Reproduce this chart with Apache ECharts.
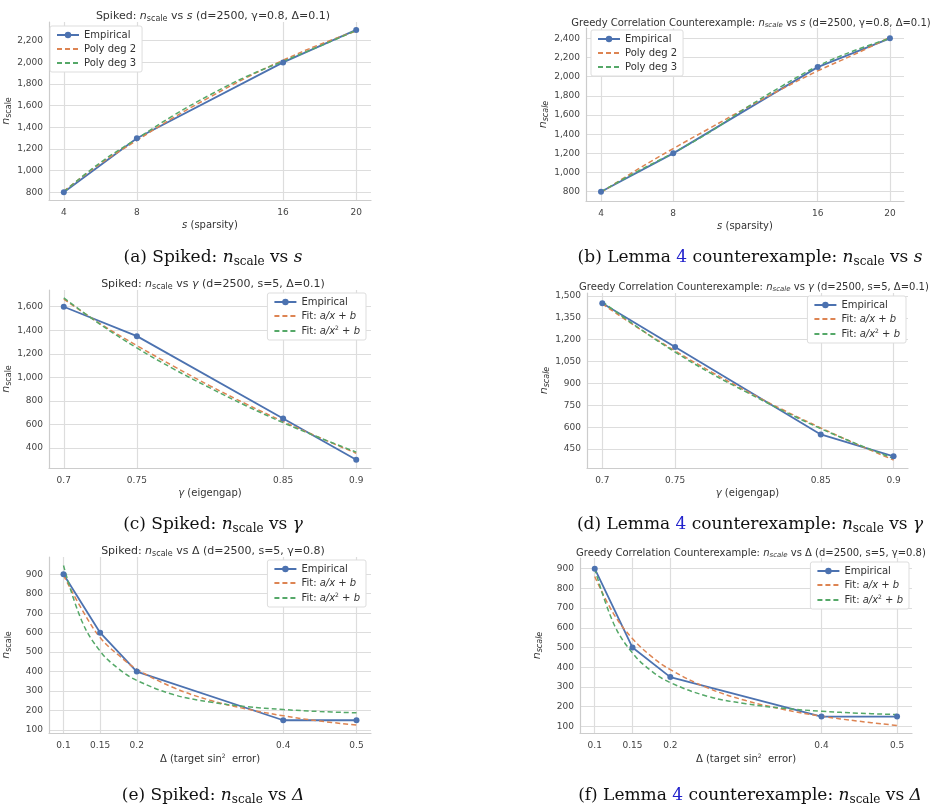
<!DOCTYPE html>
<html>
<head>
<meta charset="UTF-8">
<title>n_scale panels</title>
<script src="https://cdn.jsdelivr.net/npm/echarts@6/dist/echarts.min.js"></script>
<style>html,body{margin:0;background:#fff}</style>
</head>
<body>
<div id="chart" style="width:939px;height:807px;"></div>
<script>
// x values
var sVals = [4, 8, 16, 20];
var sFit = [4, 6, 8, 10, 12, 14, 16, 18, 20];
var gVals = [0.7, 0.75, 0.85, 0.9];
var gFit = [0.7, 0.725, 0.75, 0.775, 0.8, 0.825, 0.85, 0.875, 0.9];
var dVals = [0.1, 0.15, 0.2, 0.4, 0.5];
var dFit = [0.1, 0.125, 0.15, 0.175, 0.2, 0.25, 0.3, 0.35, 0.4, 0.45, 0.5];

// (a) spiked vs s
var aEmp = [800, 1300, 2000, 2300];
var aDeg2 = [810, 1065, 1280, 1490, 1680, 1860, 2020, 2165, 2290];
var aDeg3 = [805, 1075, 1295, 1510, 1700, 1870, 2010, 2150, 2295];
// (b) greedy vs s
var bEmp = [800, 1200, 2100, 2400];
var bDeg2 = [790, 1030, 1250, 1460, 1670, 1870, 2060, 2230, 2410];
var bDeg3 = [800, 1010, 1205, 1420, 1670, 1900, 2110, 2270, 2400];
// (c) spiked vs gamma
var cEmp = [1600, 1350, 650, 300];
var cFit1 = [1665, 1455, 1270, 1095, 928, 772, 625, 488, 355];
var cFit2 = [1675, 1450, 1250, 1072, 910, 757, 615, 487, 365];
// (d) greedy vs gamma
var dEmp = [1450, 1150, 550, 400];
var dFit1 = [1445, 1278, 1123, 978, 842, 714, 595, 482, 375];
var dFit2 = [1460, 1280, 1115, 967, 835, 708, 590, 484, 385];
// (e) spiked vs delta
var eEmp = [900, 600, 400, 150, 150];
var eFit1 = [895, 720, 575, 485, 413, 318, 253, 208, 173, 146, 125];
var eFit2 = [945, 660, 505, 415, 355, 282, 244, 220, 205, 195, 188];
// (f) greedy vs delta
var fEmp = [900, 500, 350, 150, 150];
var fFit1 = [860, 671, 545, 455, 388, 294, 231, 186, 152, 126, 105];
var fFit2 = [900, 622, 472, 381, 322, 252, 215, 192, 177, 167, 160];

var yTicksA = [800, 1000, 1200, 1400, 1600, 1800, 2000, 2200];
var yTicksB = [800, 1000, 1200, 1400, 1600, 1800, 2000, 2200, 2400];
var yTicksC = [400, 600, 800, 1000, 1200, 1400, 1600];
var yTicksD = [450, 600, 750, 900, 1050, 1200, 1350, 1500];
var yTicksE = [100, 200, 300, 400, 500, 600, 700, 800, 900];

var BLUE = '#4c72b0', ORANGE = '#dd8452', GREEN = '#55a868';
var FONT = 'DejaVu Sans';

var panels = [
  {box: [45, 22, 371, 200], xr: [3.19, 20.81], yr: [729, 2373], xt: sVals, yt: yTicksA,
   x: sVals, xf: sFit, emp: aEmp, f1: aDeg2, f2: aDeg3, names: ['Empirical', 'Poly deg 2', 'Poly deg 3'],
   title: 'Spiked: {i|n}{sub|scale} vs {i|s} (d=2500, γ=0.8, Δ=0.1)', tx: 208, ty: 5, tfs: 11,
   xname: '{i|s} (sparsity)', lg: {left: 50, top: 26}, cap: '(a) Spiked: ', capEnd: ' vs ', capVar: 's', cx: 208, cy: 243, yItal: false},
  {box: [586, 28, 904, 201], xr: [3.17, 20.78], yr: [703, 2508], xt: sVals, yt: yTicksB,
   x: sVals, xf: sFit, emp: bEmp, f1: bDeg2, f2: bDeg3, names: ['Empirical', 'Poly deg 2', 'Poly deg 3'],
   title: 'Greedy Correlation Counterexample: {i|n}{sub2|scale} vs {i|s} (d=2500, γ=0.8, Δ=0.1)', tx: 746, ty: 12, tfs: 10,
   xname: '{i|s} (sparsity)', lg: {left: 591, top: 30}, cap: '(b) Lemma ', lemma: true, capEnd: ' vs ', capVar: 's', cx: 745, cy: 243, yItal: true},
  {box: [45, 290, 371, 468], xr: [0.6899, 0.9101], yr: [230, 1742], xt: gVals, yt: yTicksC,
   x: gVals, xf: gFit, emp: cEmp, f1: cFit1, f2: cFit2, names: ['Empirical', 'Fit1', 'Fit2'],
   title: 'Spiked: {i|n}{sub|scale} vs {i|γ} (d=2500, s=5, Δ=0.1)', tx: 208, ty: 273, tfs: 11,
   xname: '{i|γ} (eigengap)', lg: {right: 573, top: 293}, cap: '(c) Spiked: ', capEnd: ' vs ', capVar: 'γ', cx: 208, cy: 510, yItal: false},
  {box: [587, 293, 908, 468], xr: [0.6895, 0.9099], yr: [320, 1520], xt: gVals, yt: yTicksD,
   x: gVals, xf: gFit, emp: dEmp, f1: dFit1, f2: dFit2, names: ['Empirical', 'Fit1', 'Fit2'],
   title: 'Greedy Correlation Counterexample: {i|n}{sub2|scale} vs {i|γ} (d=2500, s=5, Δ=0.1)', tx: 749, ty: 276, tfs: 10,
   xname: '{i|γ} (eigengap)', lg: {right: 33, top: 296}, cap: '(d) Lemma ', lemma: true, capEnd: ' vs ', capVar: 'γ', cx: 745, cy: 510, yItal: true},
  {box: [38, 557, 371, 733], xr: [0.0802, 0.5198], yr: [84.6, 988.7], xt: dVals, yt: yTicksE,
   x: dVals, xf: dFit, emp: eEmp, f1: eFit1, f2: eFit2, names: ['Empirical', 'Fit1', 'Fit2'],
   title: 'Spiked: {i|n}{sub|scale} vs Δ (d=2500, s=5, γ=0.8)', tx: 208, ty: 540, tfs: 11,
   xname: 'Δ (target sin{sup|2}  error)', lg: {right: 573, top: 560}, cap: '(e) Spiked: ', capEnd: ' vs ', capVar: 'Δ', cx: 208, cy: 781, yItal: false},
  {box: [580, 558, 912, 733], xr: [0.0805, 0.5198], yr: [66.6, 954], xt: dVals, yt: yTicksE,
   x: dVals, xf: dFit, emp: fEmp, f1: fFit1, f2: fFit2, names: ['Empirical', 'Fit1', 'Fit2'],
   title: 'Greedy Correlation Counterexample: {i|n}{sub2|scale} vs Δ (d=2500, s=5, γ=0.8)', tx: 746, ty: 542, tfs: 10,
   xname: 'Δ (target sin{sup|2}  error)', lg: {right: 30, top: 562}, cap: '(f) Lemma ', lemma: true, capEnd: ' vs ', capVar: 'Δ', cx: 745, cy: 781, yItal: true}
];

function richFor(fs) {
  return {
    i: {fontStyle: 'italic', fontSize: fs, fontFamily: FONT, color: '#333'},
    sub: {fontSize: fs - 3, fontFamily: FONT, color: '#333', padding: [5, 0, 0, 0]},
    sub2: {fontSize: fs - 3, fontStyle: 'italic', fontFamily: FONT, color: '#333', padding: [5, 0, 0, 0]},
    sup: {fontSize: fs - 4, fontFamily: FONT, color: '#333', padding: [0, 0, 6, 0]}
  };
}
var capRich = {
  t: {fontFamily: 'DejaVu Serif', fontSize: 17, color: '#111'},
  b: {fontFamily: 'DejaVu Serif', fontSize: 17, color: '#2222cc'},
  n: {fontFamily: 'DejaVu Serif', fontStyle: 'italic', fontSize: 17, color: '#111'},
  s: {fontFamily: 'DejaVu Serif', fontSize: 12, color: '#111', padding: [8, 0, 0, 0]}
};
var legendNames = {
  'Empirical': 'Empirical',
  'Poly deg 2': 'Poly deg 2',
  'Poly deg 3': 'Poly deg 3',
  'Fit1': 'Fit: {i|a/x} + {i|b}',
  'Fit2': 'Fit: {i|a/x}{sup|2} + {i|b}'
};

var option = {
  backgroundColor: '#fff',
  animation: false,
  title: [], grid: [], xAxis: [], yAxis: [], series: [], legend: []
};

panels.forEach(function (p, k) {
  option.title.push({
    text: p.title, left: p.tx, top: p.ty, textAlign: 'center',
    textStyle: {fontFamily: FONT, fontSize: p.tfs, fontWeight: 'normal', color: '#333', rich: richFor(p.tfs)}
  });
  var cap = '{t|' + p.cap + '}' + (p.lemma ? '{b|4}{t| counterexample: }' : '') +
    '{n|n}{s|scale}{t|' + p.capEnd + '}{n|' + p.capVar + '}';
  option.title.push({
    text: cap, left: p.cx, top: p.cy, textAlign: 'center',
    textStyle: {fontWeight: 'normal', rich: capRich}
  });
  option.grid.push({left: p.box[0], top: p.box[1], width: p.box[2] - p.box[0], height: p.box[3] - p.box[1]});
  option.xAxis.push({
    type: 'value', gridIndex: k, min: p.xr[0], max: p.xr[1],
    name: p.xname, nameLocation: 'middle', nameGap: 20,
    nameTextStyle: {fontFamily: FONT, fontSize: 10, color: '#333', rich: richFor(10)},
    axisLine: {show: true, lineStyle: {color: '#cccccc', width: 1.2}},
    axisTick: {show: false, customValues: p.xt},
    axisLabel: {customValues: p.xt, fontFamily: FONT, fontSize: 9, color: '#444', margin: 8},
    splitLine: {show: true, lineStyle: {color: '#dddddd', width: 1.2}}
  });
  option.yAxis.push({
    type: 'value', gridIndex: k, min: p.yr[0], max: p.yr[1],
    name: p.yItal ? '{i|n}{sub2|scale}' : '{i|n}{sub|scale}', nameLocation: 'middle', nameGap: 36, nameRotate: 90,
    nameTextStyle: {fontFamily: FONT, fontSize: 11, color: '#333', rich: richFor(11)},
    axisLine: {show: true, lineStyle: {color: '#cccccc', width: 1.2}},
    axisTick: {show: false, customValues: p.yt},
    axisLabel: {customValues: p.yt, fontFamily: FONT, fontSize: 9, color: '#444', margin: 6,
      formatter: function (v) { return v.toLocaleString('en-US'); }},
    splitLine: {show: true, lineStyle: {color: '#dddddd', width: 1.2}}
  });
  var lg = {
    data: [
      {name: p.names[0]},
      {name: p.names[1], itemStyle: {opacity: 0}},
      {name: p.names[2], itemStyle: {opacity: 0}}
    ],
    orient: 'vertical', itemWidth: 22, itemHeight: 8, itemGap: 4,
    backgroundColor: '#fff', borderColor: '#dddddd', borderWidth: 1, borderRadius: 2, padding: [4, 6],
    textStyle: {fontFamily: FONT, fontSize: 10, color: '#333', rich: richFor(10)},
    formatter: function (n) { return legendNames[n]; }
  };
  for (var key in p.lg) lg[key] = p.lg[key];
  option.legend.push(lg);

  option.series.push({
    name: p.names[0], type: 'line', xAxisIndex: k, yAxisIndex: k,
    data: p.x.map(function (v, i) { return [v, p.emp[i]]; }),
    symbol: 'circle', symbolSize: 6, color: BLUE, lineStyle: {width: 1.8, color: BLUE}, z: 3
  });
  option.series.push({
    name: p.names[1], type: 'line', xAxisIndex: k, yAxisIndex: k, smooth: 0.4,
    data: p.xf.map(function (v, i) { return [v, p.f1[i]]; }),
    showSymbol: false, color: ORANGE, lineStyle: {width: 1.5, type: [5, 3], color: ORANGE}
  });
  option.series.push({
    name: p.names[2], type: 'line', xAxisIndex: k, yAxisIndex: k, smooth: 0.4,
    data: p.xf.map(function (v, i) { return [v, p.f2[i]]; }),
    showSymbol: false, color: GREEN, lineStyle: {width: 1.5, type: [5, 3], color: GREEN}
  });
});

var chart = echarts.init(document.getElementById('chart'));
chart.setOption(option);
</script>
</body>
</html>
